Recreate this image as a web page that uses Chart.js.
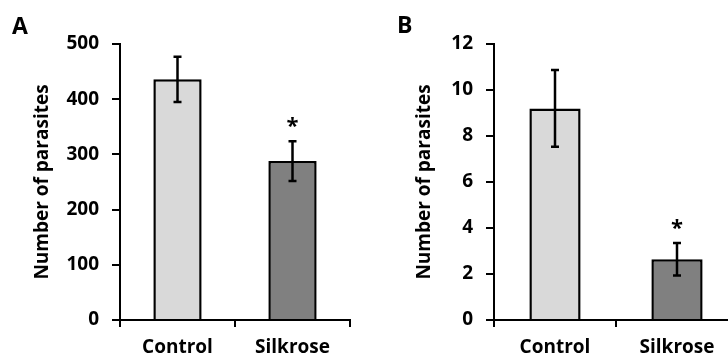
<!DOCTYPE html>
<html>
<head>
<meta charset="utf-8">
<script src="https://cdn.jsdelivr.net/npm/chart.js@4/dist/chart.umd.min.js"></script>
<style>
  html, body { margin: 0; padding: 0; background: #fff; }
  body { width: 728px; height: 358px; overflow: hidden; position: relative; }
  .panel { position: absolute; top: 0; height: 358px; }
  #panelA { left: 0; width: 364px; }
  #panelB { left: 364px; width: 380px; }
  .letter { position: absolute; font-family: "Open Sans", sans-serif; font-weight: 700; font-size: 23px; line-height: 1; color: #000; }
  #letterA { left: 12px; top: 14px; }
  #letterB { left: 397px; top: 13px; }
</style>
</head>
<body>
<div class="panel" id="panelA"><canvas id="chartA" width="364" height="358"></canvas></div>
<div class="panel" id="panelB"><canvas id="chartB" width="380" height="358"></canvas></div>
<div class="letter" id="letterA">A</div>
<div class="letter" id="letterB">B</div>
<script>
// Groups and measured parasite counts (mean and error) for the two experiments
const categories = ['Control', 'Silkrose'];
const parasitesA = [436, 288];
const errorsA = [41, 36];
const parasitesB = [9.2, 2.64];
const errorsB = [1.67, 0.71];
const significance = ['', '*'];
const barColors = ['#d9d9d9', '#808080'];
const yTitle = 'Number of parasites';
const yMaxA = 500, yStepA = 100;
const yMaxB = 12, yStepB = 2;

const FONT = '"Open Sans", sans-serif';
const LABEL_FONT = { family: FONT, weight: '700', size: 19 };

// Error bars with caps, plus the significance mark above each bar
const errorBarPlugin = {
  id: 'errorBars',
  afterDatasetsDraw(chart, args, opts) {
    const { ctx, scales: { y } } = chart;
    const meta = chart.getDatasetMeta(0);
    const errs = opts.errors || [];
    const marks = opts.marks || [];
    ctx.save();
    ctx.strokeStyle = '#000';
    ctx.lineWidth = 2.5;
    meta.data.forEach((bar, i) => {
      const v = chart.data.datasets[0].data[i];
      const e = errs[i] || 0;
      const cx = bar.x;
      const yTop = y.getPixelForValue(v + e);
      const yBot = y.getPixelForValue(v - e);
      const cap = 4;
      ctx.beginPath();
      ctx.moveTo(cx, yTop); ctx.lineTo(cx, yBot);
      ctx.moveTo(cx - cap, yTop); ctx.lineTo(cx + cap, yTop);
      ctx.moveTo(cx - cap, yBot); ctx.lineTo(cx + cap, yBot);
      ctx.stroke();
      if (marks[i]) {
        ctx.fillStyle = '#000';
        ctx.font = '700 22px ' + FONT;
        ctx.textAlign = 'center';
        ctx.textBaseline = 'alphabetic';
        ctx.fillText(marks[i], cx, yTop - 8);
      }
    });
    ctx.restore();
  }
};

function makeChart(id, values, errors, yMax, yStep, plotLeft, padRight, titleGap) {
  return new Chart(document.getElementById(id), {
    type: 'bar',
    data: {
      labels: categories,
      datasets: [{
        data: values,
        backgroundColor: barColors,
        borderColor: '#000',
        borderWidth: 2.5,
        barPercentage: 0.42,
        categoryPercentage: 1.0
      }]
    },
    options: {
      responsive: false,
      animation: false,
      events: [],
      layout: { padding: { left: 0, right: padRight, top: 44, bottom: 0 } },
      plugins: {
        legend: { display: false },
        tooltip: { enabled: false },
        errorBars: { errors: errors, marks: significance }
      },
      scales: {
        x: {
          grid: { display: true, drawOnChartArea: false, drawTicks: true, tickLength: 7, color: '#000', lineWidth: 2, offset: true },
          border: { display: true, color: '#000', width: 2 },
          ticks: { color: '#000', font: LABEL_FONT, padding: 9 },
          afterFit(scale) { scale.height = 38; }
        },
        y: {
          min: 0,
          max: yMax,
          grid: { display: true, drawOnChartArea: false, drawTicks: true, tickLength: 8, color: '#000', lineWidth: 2 },
          border: { display: true, color: '#000', width: 2 },
          ticks: { stepSize: yStep, color: '#000', font: LABEL_FONT, padding: 13 },
          title: { display: true, text: yTitle, color: '#000', font: LABEL_FONT, padding: { top: titleGap, bottom: 0 } },
          afterFit(scale) { scale.width = plotLeft; }
        }
      }
    },
    plugins: [errorBarPlugin]
  });
}

makeChart('chartA', parasitesA, errorsA, yMaxA, yStepA, 120, 14, 31);
makeChart('chartB', parasitesB, errorsB, yMaxB, yStepB, 130, 6, 49);
</script>
</body>
</html>
